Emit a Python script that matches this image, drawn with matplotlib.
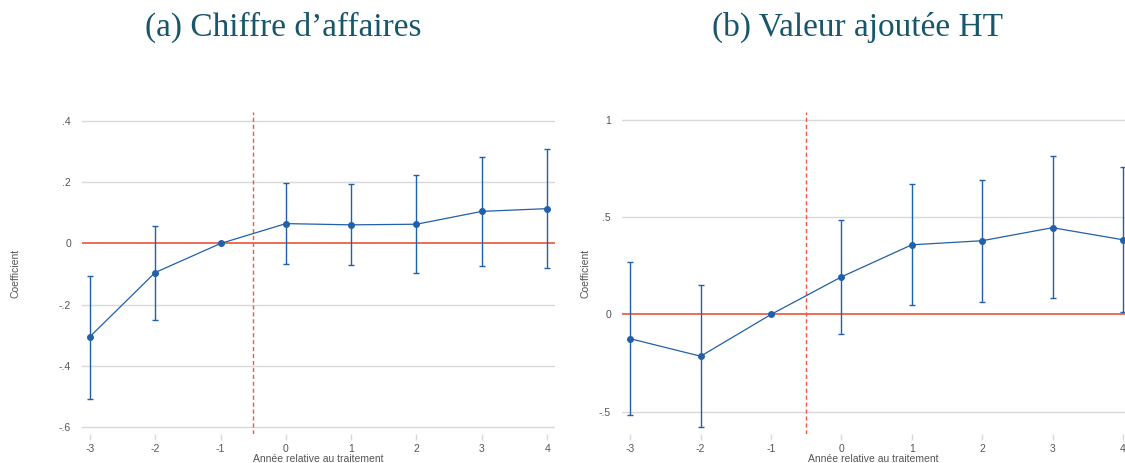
import matplotlib.pyplot as plt
import numpy as np

# relative years
years = [-3, -2, -1, 0, 1, 2, 3, 4]

# (a) Chiffre d'affaires
ca_coef = [-0.305, -0.095, 0.0, 0.065, 0.061, 0.063, 0.105, 0.114]
ca_low = [-0.508, -0.249, 0.0, -0.068, -0.070, -0.097, -0.072, -0.080]
ca_high = [-0.105, 0.056, 0.0, 0.198, 0.193, 0.224, 0.283, 0.308]

# (b) Valeur ajoutée HT
va_coef = [-0.125, -0.215, 0.0, 0.193, 0.358, 0.379, 0.446, 0.384]
va_low = [-0.517, -0.581, 0.0, -0.102, 0.050, 0.064, 0.083, 0.010]
va_high = [0.269, 0.153, 0.0, 0.484, 0.673, 0.693, 0.815, 0.756]

ca_ticks = [0.4, 0.2, 0, -0.2, -0.4, -0.6]
ca_ticklabels = [".4", ".2", "0", "-.2", "-.4", "-.6"]
va_ticks = [1, 0.5, 0, -0.5]
va_ticklabels = ["1", ".5", "0", "-.5"]

BLUE = "#2160aa"
RED = "#e8452c"
DASH = "#f05a40"
GRID = "#d9d9d9"
TXT = "#555555"
TITLE = "#17566b"

plt.rcParams["font.family"] = ["Liberation Sans", "DejaVu Sans"]

fig = plt.figure(figsize=(11.25, 4.63), dpi=100)
ax1 = fig.add_axes([82 / 1125, 1 - 434 / 463, 473 / 1125, 322 / 463])
ax2 = fig.add_axes([622 / 1125, 1 - 434 / 463, 503 / 1125, 322 / 463])


def draw(ax, coef, low, high, ticks, labels, xlim, ylim, ylab_x):
    x = np.array(years)
    c = np.array(coef)
    err = [c - np.array(low), np.array(high) - c]
    for t in ticks:
        if t != 0:
            ax.axhline(t, color=GRID, lw=1, zorder=0)
    ax.axhline(0, color=RED, lw=1.1, zorder=1)
    ax.axvline(-0.5, color=DASH, lw=1, ls=(0, (3, 2)), zorder=1)
    ax.errorbar(x, c, yerr=err, color=BLUE, lw=0.9, elinewidth=1,
                capsize=2, capthick=1, marker="o", markersize=4, zorder=3)
    ax.set_xlim(*xlim)
    ax.set_ylim(*ylim)
    ax.set_yticks(ticks)
    ax.set_yticklabels(labels)
    ax.set_xticks(years)
    ax.set_xticklabels([str(v) for v in years])
    for s in ax.spines.values():
        s.set_visible(False)
    ax.tick_params(axis="y", length=0, pad=8, labelsize=7.5, labelcolor=TXT)
    ax.tick_params(axis="x", length=4, width=1, color=GRID, pad=3,
                   labelsize=7.5, labelcolor=TXT)
    ax.set_xlabel("Année relative au traitement", fontsize=7.5, color=TXT,
                  labelpad=0)
    ax.set_ylabel("Coefficient", fontsize=7.5, color=TXT)
    ax.yaxis.set_label_coords(ylab_x, 0.5)


draw(ax1, ca_coef, ca_low, ca_high, ca_ticks, ca_ticklabels,
     (-3.12, 4.12), (-0.623, 0.43), -0.13)
draw(ax2, va_coef, va_low, va_high, va_ticks, va_ticklabels,
     (-3.118, 4.03), (-0.615, 1.041), -0.062)

fig.text(283 / 1125, 1 - 27 / 463, "(a) Chiffre d’affaires", ha="center",
         va="center", fontsize=24, color=TITLE, family="Liberation Serif")
fig.text(858 / 1125, 1 - 27 / 463, "(b) Valeur ajoutée HT", ha="center",
         va="center", fontsize=24, color=TITLE, family="Liberation Serif")

fig.savefig("out.png", dpi=100)
